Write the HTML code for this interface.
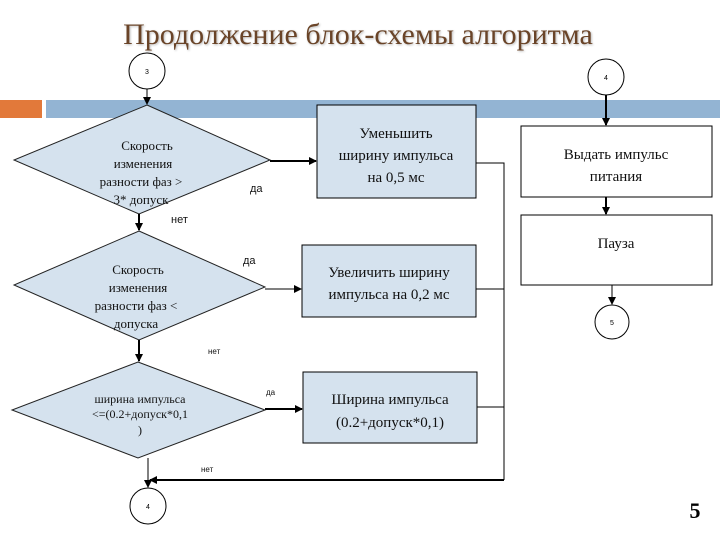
<!DOCTYPE html>
<html><head><meta charset="utf-8"><style>
html,body{margin:0;padding:0;background:#fff}
svg{display:block}
</style></head><body>
<svg width="720" height="540" viewBox="0 0 720 540" xmlns="http://www.w3.org/2000/svg" font-family="'Liberation Serif',serif">
<defs>
<marker id="a" markerWidth="8" markerHeight="8" refX="7" refY="4" orient="auto" markerUnits="userSpaceOnUse"><path d="M0,0 L8,4 L0,8 z" fill="#000"/></marker>
</defs>
<text x="358" y="44" font-size="30" text-anchor="middle" fill="#6a4428" style="text-shadow:1px 1px 2px #bbb">Продолжение блок-схемы алгоритма</text>
<rect x="0" y="100" width="42" height="18" fill="#e2793a"/>
<rect x="46" y="100" width="674" height="18" fill="#93b4d3"/>
<g stroke="#000" fill="none">
<circle cx="147" cy="71" r="18" fill="#fff"/>
<circle cx="606" cy="77" r="18" fill="#fff"/>
<circle cx="612" cy="322" r="17" fill="#fff"/>
<circle cx="148" cy="506" r="18" fill="#fff"/>
<line x1="147" y1="89" x2="147" y2="104" marker-end="url(#a)"/>
<line x1="606" y1="95" x2="606" y2="125" stroke-width="2" marker-end="url(#a)"/>
<line x1="606" y1="197" x2="606" y2="214" stroke-width="2" marker-end="url(#a)"/>
<line x1="612" y1="285" x2="612" y2="304" marker-end="url(#a)"/>
<polygon points="147,105 270,160 139,214 14,160" fill="#d5e2ee" stroke="#222"/>
<polygon points="139,231 265,287 139,340 14,285" fill="#d5e2ee" stroke="#222"/>
<polygon points="138,362 265,410 138,458 12,410" fill="#d5e2ee" stroke="#222"/>
<rect x="317" y="105" width="159" height="93" fill="#d5e2ee"/>
<rect x="302" y="245" width="174" height="72" fill="#d5e2ee"/>
<rect x="303" y="372" width="174" height="71" fill="#d5e2ee"/>
<rect x="521" y="126" width="191" height="71" fill="#fff"/>
<rect x="521" y="215" width="191" height="70" fill="#fff"/>
<line x1="270" y1="161" x2="316" y2="161" stroke-width="2" marker-end="url(#a)"/>
<line x1="265" y1="289" x2="301" y2="289" marker-end="url(#a)"/>
<line x1="265" y1="409" x2="302" y2="409" stroke-width="2" marker-end="url(#a)"/>
<line x1="139" y1="214" x2="139" y2="230" stroke-width="2" marker-end="url(#a)"/>
<line x1="139" y1="340" x2="139" y2="361" stroke-width="2" marker-end="url(#a)"/>
<line x1="148" y1="458" x2="148" y2="487" marker-end="url(#a)"/>
<polyline points="476,163 504,163 504,480"/>
<line x1="476" y1="289" x2="504" y2="289"/>
<line x1="477" y1="407" x2="504" y2="407"/>
<line x1="504" y1="480" x2="150" y2="480" stroke-width="2" marker-end="url(#a)"/>
</g>
<g font-size="7" text-anchor="middle" font-family="'Liberation Sans',sans-serif">
<text x="147" y="74">3</text><text x="606" y="80">4</text><text x="612" y="325">5</text><text x="148" y="509">4</text>
</g>
<g font-size="13" text-anchor="middle" fill="#111">
<text x="147" y="150">Скорость</text><text x="143" y="168">изменения</text><text x="141" y="186">разности фаз &gt;</text><text x="141" y="204">3* допуск</text>
<text x="138" y="274">Скорость</text><text x="138" y="292">изменения</text><text x="136" y="310">разности фаз &lt;</text><text x="136" y="328">допуска</text>
<text x="140" y="403" font-size="12">ширина импульса</text><text x="140" y="418" font-size="12">&lt;=(0.2+допуск*0,1</text><text x="140" y="434" font-size="12">)</text>
</g>
<g font-size="15" text-anchor="middle" fill="#111">
<text x="396" y="138">Уменьшить</text><text x="396" y="160">ширину импульса</text><text x="396" y="182">на 0,5 мс</text>
<text x="389" y="277">Увеличить ширину</text><text x="389" y="299">импульса на 0,2 мс</text>
<text x="390" y="404">Ширина импульса</text><text x="390" y="427">(0.2+допуск*0,1)</text>
<text x="616" y="159">Выдать импульс</text><text x="616" y="181">питания</text>
<text x="616" y="248">Пауза</text>
</g>
<g font-family="'Liberation Sans',sans-serif" fill="#111">
<text x="250" y="192" font-size="11">да</text>
<text x="171" y="223" font-size="11">нет</text>
<text x="243" y="264" font-size="11">да</text>
<text x="208" y="354" font-size="8">нет</text>
<text x="266" y="395" font-size="8">да</text>
<text x="201" y="472" font-size="8">нет</text>
</g>
<text x="695" y="518" font-size="22" font-weight="bold" text-anchor="middle">5</text>
</svg>
</body></html>
